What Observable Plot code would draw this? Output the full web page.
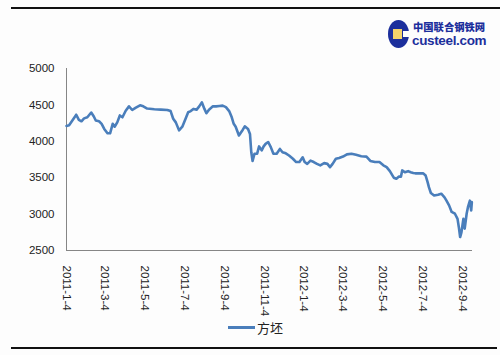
<!DOCTYPE html>
<html>
<head>
<meta charset="utf-8">
<script src="https://cdn.jsdelivr.net/npm/d3@7"></script>
<script src="https://cdn.jsdelivr.net/npm/@observablehq/plot@0.6"></script>
<style>
  html, body { margin: 0; padding: 0; background: #fff; }
  #wrap { position: relative; width: 500px; height: 355px; overflow: hidden; background: #fdfdfd; font-family: "Liberation Sans", Arial, sans-serif; }
  #chart { position: absolute; left: 0; top: 0; }
  .topline { position: absolute; left: 11px; top: 7px; width: 489px; height: 2px; background: #111; }
  .botline { position: absolute; left: 11px; top: 347px; width: 486px; height: 2px; background: #111; }
  #logo { position: absolute; left: 388px; top: 20px; width: 110px; height: 30px; white-space: nowrap; }
  #logo .c { position: absolute; left: 0; top: 0; width: 21px; height: 28px; border-radius: 50%; background: #1c2f9c; }
  #logo .notch { position: absolute; left: 15px; top: 11px; width: 8px; height: 6px; background: #fdfdfd; }
  #logo .c i { position: absolute; left: 5px; top: 9px; width: 9px; height: 10px; background: #f3d36b; }
  #logo .cn { position: absolute; left: 25px; top: 1px; font-family: "Noto Sans CJK SC", sans-serif; font-weight: 900; font-size: 10.3px; line-height: 12px; color: #1c2f9c; letter-spacing: 0px; }
  #logo .en { position: absolute; left: 24px; top: 13px; font-family: "Liberation Sans", Arial, sans-serif; font-weight: bold; font-size: 13.5px; line-height: 16px; color: #1c2f9c; letter-spacing: -0.35px; }
  #legend { position: absolute; left: 228px; top: 318px; display: flex; align-items: center; font-family: "Noto Sans CJK SC", sans-serif; font-size: 13px; color: #222; }
  #legend span.sw { display: inline-block; width: 27px; height: 3px; background: #4a7ebb; margin-right: 2px; }
</style>
</head>
<body>
<div id="wrap">
  <div class="topline"></div>
  <div id="chart"></div>
  <div id="logo"><div class="c"><i></i></div><div class="notch"></div><div class="cn">中国联合钢铁网</div><div class="en">custeel.com</div></div>
  <div id="legend"><span class="sw"></span><span>方坯</span></div>
  <div class="botline"></div>
</div>
<script>
const seriesName = "方坯";
const tickLabels = ["2011-1-4","2011-3-4","2011-5-4","2011-7-4","2011-9-4","2011-11-4","2012-1-4","2012-3-4","2012-5-4","2012-7-4","2012-9-4"];
const yTicks = [2500, 3000, 3500, 4000, 4500, 5000];
const dates = [
"2011-01-04","2011-01-08","2011-01-13","2011-01-19","2011-01-23","2011-01-27","2011-01-31","2011-02-05","2011-02-11","2011-02-15",
"2011-02-18","2011-02-23","2011-02-27","2011-03-03","2011-03-08","2011-03-12","2011-03-16","2011-03-19","2011-03-23","2011-03-27",
"2011-03-31","2011-04-05","2011-04-10","2011-04-15","2011-04-20","2011-04-27","2011-05-02","2011-05-08","2011-05-19","2011-05-29",
"2011-06-08","2011-06-13","2011-06-17","2011-06-21","2011-06-26","2011-07-01","2011-07-06","2011-07-10","2011-07-14","2011-07-18",
"2011-07-23","2011-07-27","2011-07-31","2011-08-04","2011-08-07","2011-08-11","2011-08-17","2011-08-22","2011-08-27","2011-09-01",
"2011-09-06","2011-09-11","2011-09-15","2011-09-18","2011-09-21","2011-09-26","2011-10-02","2011-10-05","2011-10-10","2011-10-13",
"2011-10-15","2011-10-17","2011-10-20","2011-10-24","2011-10-27","2011-10-31","2011-11-03","2011-11-06","2011-11-10","2011-11-14",
"2011-11-18","2011-11-23","2011-11-28","2011-12-02","2011-12-07","2011-12-12","2011-12-18","2011-12-23","2011-12-28","2012-01-02",
"2012-01-05","2012-01-09","2012-01-14","2012-01-19","2012-01-24","2012-01-29","2012-02-04","2012-02-09","2012-02-13","2012-02-17",
"2012-02-22","2012-02-27","2012-03-04","2012-03-10","2012-03-17","2012-03-24","2012-04-01","2012-04-09","2012-04-15","2012-04-22",
"2012-04-29","2012-05-05","2012-05-10","2012-05-15","2012-05-21","2012-05-25","2012-05-29","2012-06-01","2012-06-03","2012-06-07",
"2012-06-12","2012-06-16","2012-06-20","2012-06-23","2012-06-30","2012-07-05","2012-07-09","2012-07-12","2012-07-14","2012-07-17",
"2012-07-22","2012-07-28","2012-08-02","2012-08-07","2012-08-10","2012-08-14","2012-08-18","2012-08-23","2012-08-27","2012-08-29",
"2012-08-31","2012-09-02","2012-09-05","2012-09-07","2012-09-10","2012-09-12","2012-09-15","2012-09-17","2012-09-18"
];
const prices = [
4210,4220,4285,4365,4295,4275,4315,4330,4395,4340,
4285,4275,4240,4170,4110,4110,4240,4200,4260,4355,
4330,4420,4480,4430,4460,4495,4480,4450,4440,4435,
4430,4415,4310,4260,4150,4200,4310,4400,4415,4445,
4435,4480,4535,4445,4385,4435,4480,4480,4485,4490,
4470,4415,4330,4240,4200,4080,4160,4205,4170,4100,
3850,3730,3830,3830,3930,3875,3930,3965,3990,3920,
3830,3830,3895,3850,3835,3805,3760,3715,3715,3780,
3715,3690,3735,3715,3690,3670,3700,3690,3645,3690,
3760,3770,3790,3820,3830,3815,3795,3790,3730,3715,
3715,3670,3645,3590,3500,3485,3515,3515,3600,3575,
3590,3575,3565,3560,3560,3560,3530,3440,3370,3290,
3255,3265,3280,3230,3185,3120,3030,3005,2935,2820,
2685,2750,2935,2800,3005,3095,3185,3050,3165
];
const parse = d3.utcParse("%Y-%m-%d");
const data = dates.map((d, i) => ({date: parse(d), price: prices[i], series: seriesName}));
const tickParse = d3.utcParse("%Y-%-m-%-d");
const tickDates = tickLabels.map(t => tickParse(t));
const xStart = parse("2011-01-04");
const xEnd = parse("2012-09-19");

const chart = Plot.plot({
  width: 500,
  height: 355,
  marginLeft: 66,
  marginRight: 28,
  marginTop: 68,
  marginBottom: 105,
  style: {background: "transparent", fontFamily: "'Liberation Sans', Arial, sans-serif", fontSize: "11.5px", color: "#222"},
  x: {type: "utc", domain: [xStart, xEnd], ticks: tickDates, tickFormat: d3.utcFormat("%Y-%-m-%-d"), tickRotate: 90, tickSize: 0, tickPadding: 15, label: null},
  y: {domain: [2500, 5000], ticks: yTicks, tickFormat: d3.format("d"), tickSize: 0, tickPadding: 12, label: null},
  marks: [
    Plot.ruleY([2500], {stroke: "#868686", strokeWidth: 1}),
    Plot.ruleX([xStart], {stroke: "#868686", strokeWidth: 1}),
    Plot.lineY(data, {x: "date", y: "price", stroke: "#4a7ebb", strokeWidth: 2.6, strokeLinejoin: "round"})
  ]
});
document.getElementById("chart").appendChild(chart);
</script>
</body>
</html>
